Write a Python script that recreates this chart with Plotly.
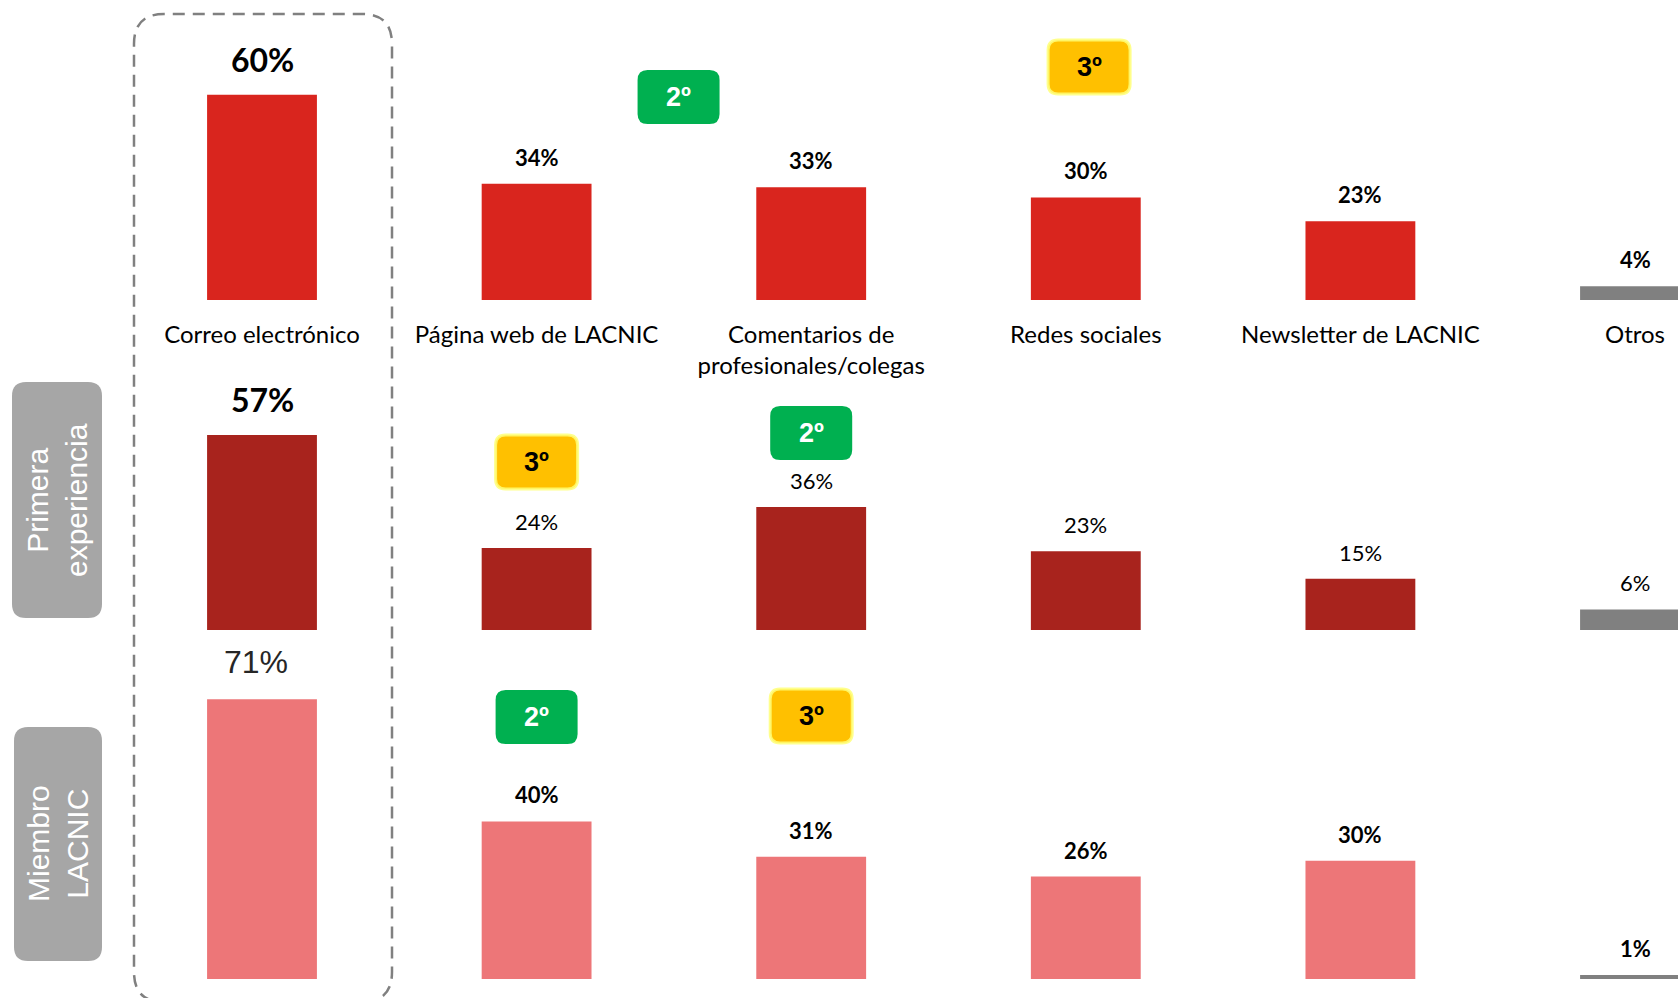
import plotly.graph_objects as go

# ---------------- data ----------------
categories = ["Correo electrónico", "Página web de LACNIC", "Comentarios de profesionales/colegas",
              "Redes sociales", "Newsletter de LACNIC", "Otros"]
tick_labels = ["Correo electrónico", "Página web de LACNIC", "Comentarios de<br>profesionales/colegas",
               "Redes sociales", "Newsletter de LACNIC", "Otros"]
total_pct = [60, 34, 33, 30, 23, 4]
primera_pct = [57, 24, 36, 23, 15, 6]
miembro_pct = [71, 40, 31, 26, 30, 1]
group_labels = ["Primera<br>experiencia", "Miembro<br>LACNIC"]
# (row, category index, rank label)
badges = [(0, 1, "2º"), (0, 3, "3º"), (1, 1, "3º"), (1, 2, "2º"), (2, 1, "2º"), (2, 2, "3º")]

# ---------------- style ----------------
W, H = 1678, 998
row_colors = ["#D9251E", "#A8231D", "#ED7678"]
otros_color = "#808080"
CAL = "Lato, 'Open Sans', sans-serif"
ARIAL = "'Liberation Sans', Arial, sans-serif"


def py(px):
    return 1 - px / H


# row geometry (baseline px, top px, px per %)
rows = [dict(base=300, top=10, scale=3.42), dict(base=630, top=350, scale=3.42), dict(base=979, top=640, scale=3.94)]
yaxes = ["y", "y2", "y3"]
row_values = [total_pct, primera_pct, miembro_pct]

fig = go.Figure()
for i, vals in enumerate(row_values):
    colors = [row_colors[i]] * (len(categories) - 1) + [otros_color]
    fig.add_trace(go.Bar(x=categories, y=vals, marker=dict(color=colors, line=dict(width=0)),
                         width=0.4, yaxis=yaxes[i], xaxis="x", hoverinfo="x+y"))

spacing = 274.6
c0 = 262
xr = [-c0 / spacing, (W - c0) / spacing]

layout = dict(
    width=W, height=H, margin=dict(l=0, r=0, t=0, b=0),
    paper_bgcolor="white", plot_bgcolor="white", showlegend=False,
    xaxis=dict(range=xr, anchor="y", tickvals=categories, ticktext=tick_labels, showgrid=False,
               showline=False, zeroline=False, ticks="", ticklabelstandoff=18,
               tickfont=dict(family=CAL, size=24, color="#000")),
)
for i, r in enumerate(rows):
    key = "yaxis" if i == 0 else f"yaxis{i+1}"
    layout[key] = dict(domain=[py(r["base"]), py(r["top"])],
                       range=[0, (r["base"] - r["top"]) / r["scale"]],
                       visible=False, anchor="x", fixedrange=True)
fig.update_layout(**layout)

# ---------------- value labels ----------------
annotations = []
for i, vals in enumerate(row_values):
    for j, v in enumerate(vals):
        big = j == 0
        if i == 0:
            bold = True
        elif i == 1:
            bold = big
        else:
            bold = not big
        txt = f"{v}%"
        if bold:
            txt = f"<b>{txt}</b>"
        fam = CAL
        col = "#000"
        size = 32 if big else 22
        shift = 14 if big else 11
        xshift = 0
        if i == 2 and big:
            fam = ARIAL
            col = "#262626"
            size = 32
            shift = 17
            xshift = -6
        annotations.append(dict(x=categories[j], y=v, xref="x", yref=yaxes[i], text=txt, showarrow=False,
                                xanchor="center", yanchor="bottom", yshift=shift, xshift=xshift,
                                font=dict(family=fam, size=size, color=col)))

# ---------------- rounded rect helper ----------------

def rrect(a, b, r):
    return (f"M {-a + r},{-b} L {a - r},{-b} Q {a},{-b} {a},{-b + r} L {a},{b - r} Q {a},{b} {a - r},{b} "
            f"L {-a + r},{b} Q {-a},{b} {-a},{b - r} L {-a},{-b + r} Q {-a},{-b} {-a + r},{-b} Z")


shapes = []
# dashed highlight box around first category
shapes.append(dict(type="path", xref="paper", yref="paper", xsizemode="pixel", ysizemode="pixel",
                   xanchor=263 / W, yanchor=py(508), path=rrect(129, 494, 30),
                   line=dict(color="#808080", width=2.5, dash="12px,8px"), fillcolor="rgba(0,0,0,0)"))

# group side boxes
side = [(57, 500, 45, 118), (58, 844, 44, 117)]
for (cx, cy, a, b), lab in zip(side, group_labels):
    shapes.append(dict(type="path", xref="paper", yref="paper", xsizemode="pixel", ysizemode="pixel",
                       xanchor=cx / W, yanchor=py(cy), path=rrect(a, b, 14),
                       line=dict(width=0), fillcolor="#A6A6A6"))
    annotations.append(dict(x=cx / W, y=py(cy), xref="paper", yref="paper", text=lab, textangle=-90,
                            xanchor="center", yanchor="middle", showarrow=False,
                            font=dict(family=ARIAL, size=30, color="white")))

# rank badges
badge_y = {(0, 1): 97, (0, 3): 67, (1, 1): 462, (1, 2): 433, (2, 1): 717, (2, 2): 716}
badge_dx = {(0, 1): 0.517, (0, 3): 0.012}
for r, c, lab in badges:
    xa = c + badge_dx.get((r, c), 0)
    ya = py(badge_y[(r, c)])
    if lab == "2º":
        fill, line, tcol = "#00B050", dict(width=0), "white"
    else:
        fill, line, tcol = "#FFC000", dict(color="rgba(255,255,120,0.85)", width=3), "black"
    shapes.append(dict(type="path", xref="x", yref="paper", xsizemode="pixel", ysizemode="pixel",
                       xanchor=xa, yanchor=ya, path=rrect(41, 27, 10), line=line, fillcolor=fill))
    annotations.append(dict(x=xa, y=ya, xref="x", yref="paper", text=f"<b>{lab}</b>", showarrow=False,
                            xanchor="center", yanchor="middle",
                            font=dict(family=ARIAL, size=27, color=tcol)))

fig.update_layout(shapes=shapes, annotations=annotations)

fig.write_html("out.html", config={"displayModeBar": False},
               post_script="document.body.style.margin='0';")
